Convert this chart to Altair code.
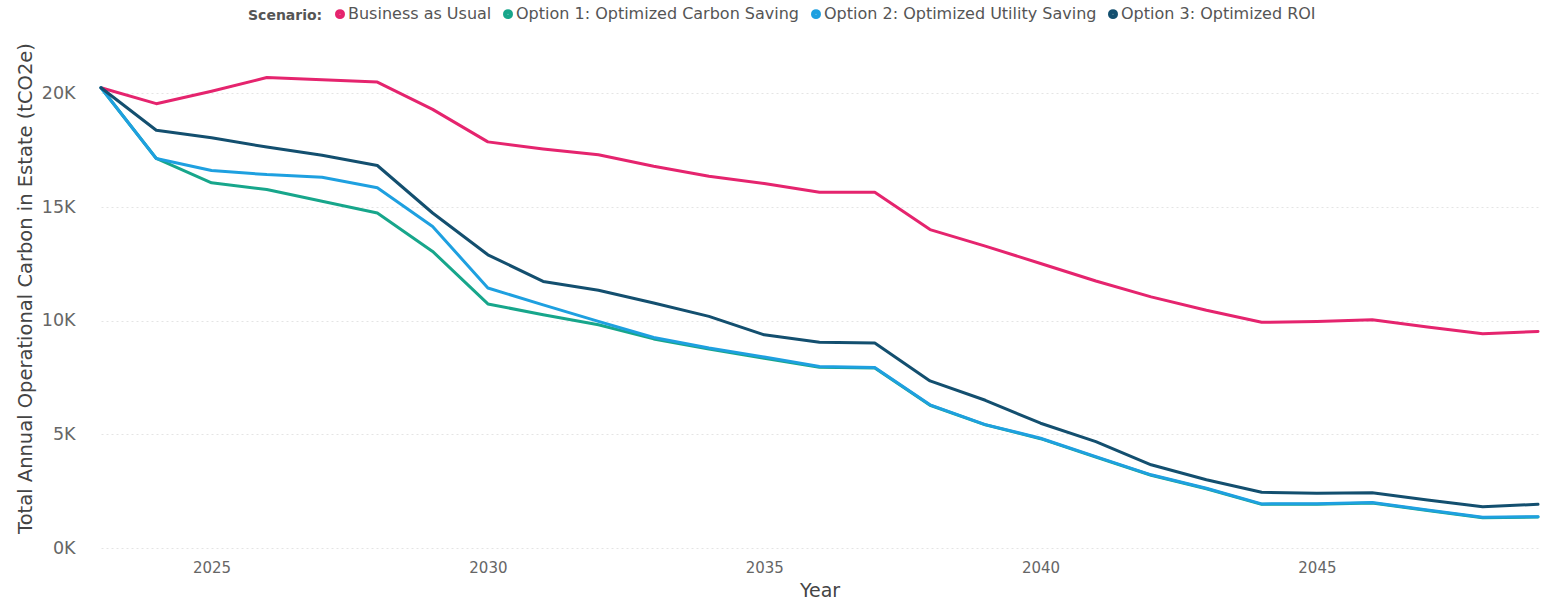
import altair as alt
import pandas as pd

# Years on the x axis
years = list(range(2023, 2050))

# Total annual operational carbon per scenario, in thousands of tCO2e
business_as_usual = [20.25, 19.55, 20.10, 20.70, 20.60, 20.50, 19.30, 17.87, 17.56, 17.30,
                     16.80, 16.36, 16.04, 15.65, 15.65, 14.01, 13.28, 12.52, 11.75, 11.05,
                     10.46, 9.93, 9.97, 10.04, 9.72, 9.43, 9.53]
opt_carbon = [20.25, 17.14, 16.07, 15.77, 15.26, 14.74, 13.05, 10.74, 10.26, 9.82,
              9.20, 8.75, 8.35, 7.95, 7.92, 6.28, 5.42, 4.81, 4.00, 3.20,
              2.61, 1.92, 1.93, 1.98, 1.65, 1.33, 1.36]
opt_utility = [20.25, 17.14, 16.61, 16.43, 16.31, 15.85, 14.15, 11.44, 10.70, 9.97,
               9.26, 8.80, 8.40, 7.99, 7.94, 6.30, 5.43, 4.83, 4.02, 3.22,
               2.63, 1.94, 1.95, 2.00, 1.67, 1.35, 1.38]
opt_roi = [20.25, 18.38, 18.05, 17.64, 17.28, 16.83, 14.74, 12.90, 11.73, 11.34,
           10.78, 10.19, 9.38, 9.05, 9.02, 7.35, 6.50, 5.49, 4.68, 3.66,
           3.00, 2.45, 2.41, 2.43, 2.11, 1.82, 1.92]

scenarios = [
    "Business as Usual",
    "Option 1: Optimized Carbon Saving",
    "Option 2: Optimized Utility Saving",
    "Option 3: Optimized ROI",
]
colors = ["#E5246E", "#17A68B", "#1EA0E0", "#134F6F"]
series = [business_as_usual, opt_carbon, opt_utility, opt_roi]

rows = []
for name, vals in zip(scenarios, series):
    for yr, v in zip(years, vals):
        rows.append({"Year": yr, "Scenario": name, "Carbon": v * 1000})
df = pd.DataFrame(rows)

FONT = "DejaVu Sans"

chart = (
    alt.Chart(df)
    .mark_line(strokeWidth=3, strokeJoin="round", strokeCap="round")
    .encode(
        x=alt.X(
            "Year:Q",
            scale=alt.Scale(domain=[2023, 2049], nice=False, zero=False),
            axis=alt.Axis(
                values=[2025, 2030, 2035, 2040, 2045],
                format="d",
                grid=False,
                domain=False,
                ticks=False,
                labelPadding=12,
                labelFontSize=15,
                titleFontSize=19,
                titlePadding=6,
            ),
        ),
        y=alt.Y(
            "Carbon:Q",
            scale=alt.Scale(domain=[0, 22000], nice=False),
            axis=alt.Axis(
                values=[0, 5000, 10000, 15000, 20000],
                labelExpr="datum.value / 1000 + 'K'",
                grid=True,
                gridColor="#e4e4e4",
                gridDash=[2, 3],
                gridWidth=1,
                domain=False,
                ticks=False,
                labelPadding=26,
                labelFontSize=17.5,
                titleFontSize=19.5,
                titleX=-66,
                titleY=240,
            ),
            title="Total Annual Operational Carbon in Estate (tCO2e)",
        ),
        color=alt.Color(
            "Scenario:N",
            scale=alt.Scale(domain=scenarios, range=colors),
            legend=alt.Legend(
                orient="none",
                legendX=147,
                legendY=-42,
                direction="horizontal",
                titleOrient="left",
                title="Scenario:",
                titlePadding=9,
                symbolType="circle",
                symbolSize=30,
                symbolStrokeWidth=4.5,
                columnPadding=4,
                labelOffset=0,
                labelLimit=600,
            ),
        ),
        order="Year:Q",
    )
    .properties(width=1437, height=500)
    .configure(
        font=FONT,
        padding={"left": 101, "top": 48, "right": 4, "bottom": 55},
        autosize=alt.AutoSizeParams(type="none"),
        background="#ffffff",
    )
    .configure_view(stroke=None)
    .configure_axis(
        labelFont=FONT,
        titleFont=FONT,
        labelColor="#666666",
        titleColor="#444444",
        titleFontWeight="normal",
    )
    .configure_legend(
        labelFont=FONT,
        titleFont=FONT,
        labelFontSize=16,
        labelColor="#555555",
        titleFontSize=14,
        titleColor="#555555",
        titleFontWeight="bold",
    )
)

chart.save("out.html", embed_options={"renderer": "svg", "actions": False})
